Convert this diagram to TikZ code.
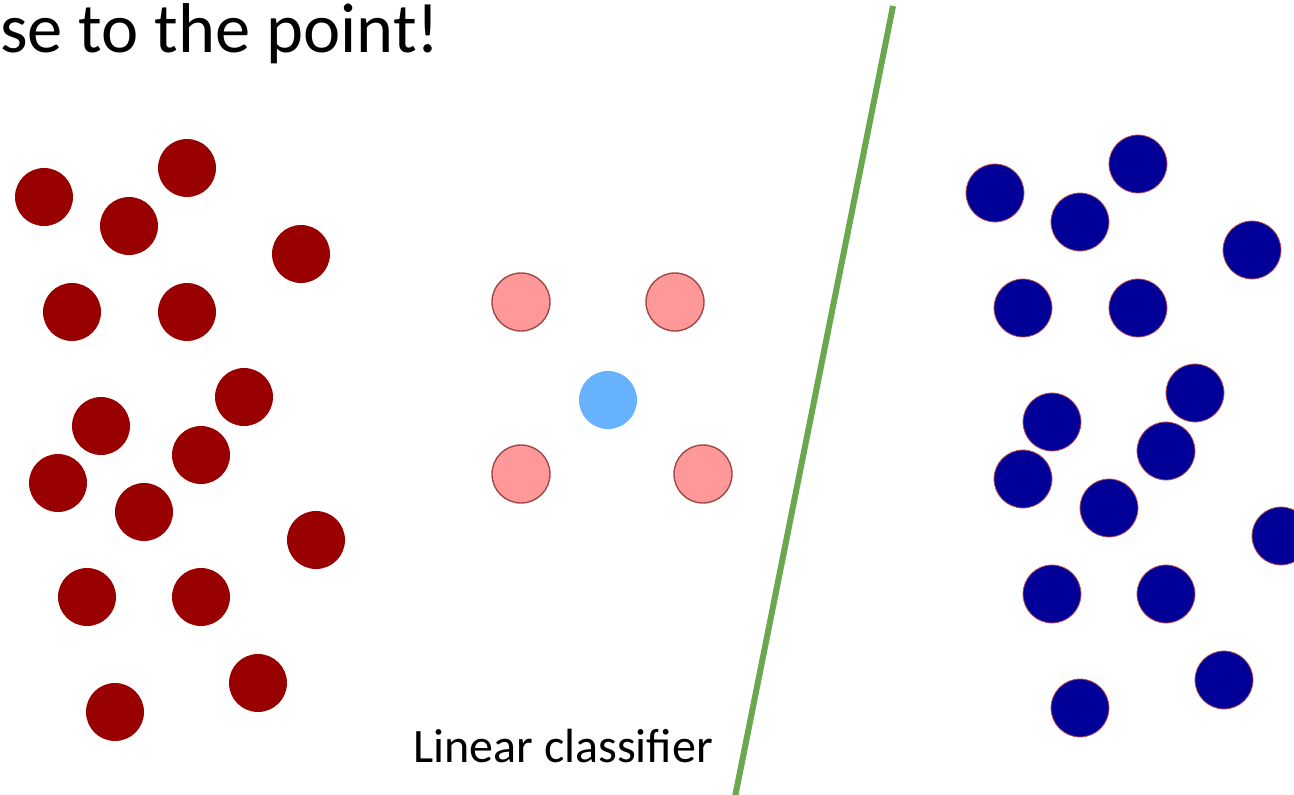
\documentclass[tikz,border=0pt]{standalone}
\usepackage{fontspec}
\setmainfont{Carlito}
\definecolor{darkred}{HTML}{990000}
\definecolor{navy}{HTML}{000099}
\definecolor{pinkfill}{HTML}{FF9999}
\definecolor{pinkline}{HTML}{A04848}
\definecolor{lightblue}{HTML}{66B2FF}
\definecolor{navyline}{HTML}{C0504D}
\definecolor{sepgreen}{HTML}{6AA84F}
\begin{document}
\begin{tikzpicture}[x=1pt,y=-1pt,
  dot/.style={circle,inner sep=0pt,minimum size=58pt},
  reddot/.style={dot,fill=darkred},
  bluedot/.style={dot,fill=navy,draw=navyline,line width=0.8pt},
  pinkdot/.style={dot,fill=pinkfill,draw=pinkline,line width=1.4pt},
  querydot/.style={dot,fill=lightblue},
  sep/.style={draw=sepgreen,line width=6pt},
  title/.style={font=\fontsize{70.5}{74}\selectfont,inner sep=0pt},
  label/.style={font=\fontsize{48}{52}\selectfont,inner sep=0pt}]
\useasboundingbox (0,0) rectangle (1294,795);
\clip (0,0) rectangle (1294,795);
% title
\node[title,anchor=base east] (title) at (440,52) {se to the point!};
% red class
\foreach \n/\x/\y in {r1/44/197,r2/187/168,r3/129/226,r4/301/254,r5/72/312,r6/187/312,r7/244/397,r8/101/426,r9/201/455,r10/58/483,r11/144/512,r12/316/540,r13/87/597,r14/201/597,r15/258/683,r16/115/712}
  \node[reddot] (\n) at (\x,\y) {};
% blue class
\foreach \n/\x/\y in {b1/995/193,b2/1138/164,b3/1080/222,b4/1252/250,b5/1023/308,b6/1138/308,b7/1195/393,b8/1052/422,b9/1166/451,b10/1023/479,b11/1109/508,b12/1281/536,b13/1052/594,b14/1166/594,b15/1224/680,b16/1080/708}
  \node[bluedot] (\n) at (\x,\y) {};
% neighbours and query
\node[pinkdot] (p1) at (521,302) {};
\node[pinkdot] (p2) at (675,302) {};
\node[pinkdot] (p3) at (521,474) {};
\node[pinkdot] (p4) at (703,474) {};
\node[querydot] (q) at (608,400) {};
% separating line
\coordinate (lt) at (893,6);
\coordinate (lb) at (735,797);
\draw[sep] (lt) -- (lb);
\node[label,anchor=base west] (lab) at (413,762) {Linear classifier};
\end{tikzpicture}
\end{document}
